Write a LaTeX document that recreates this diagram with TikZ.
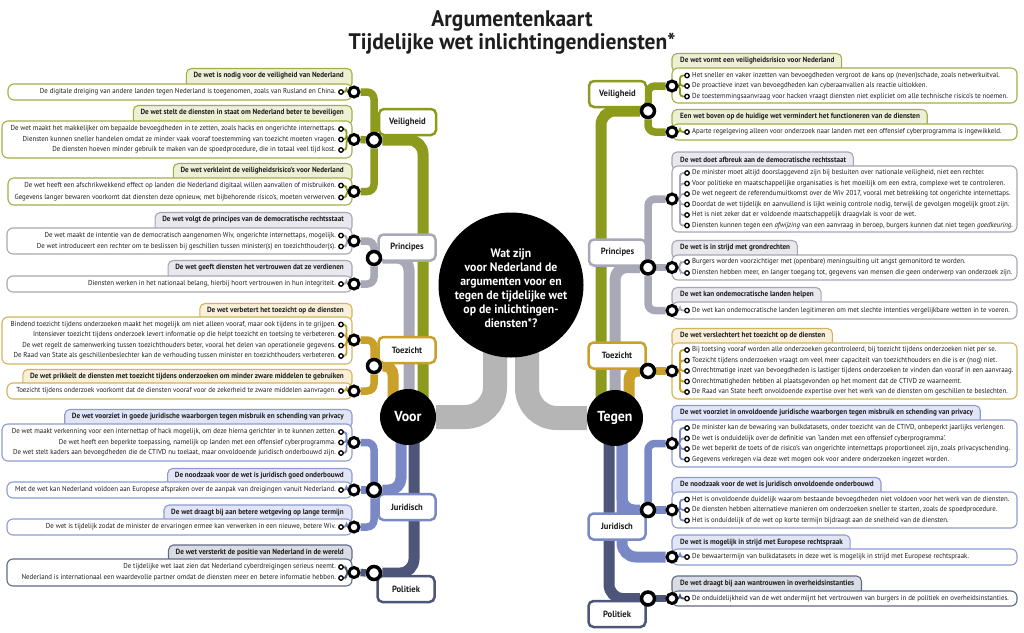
\documentclass[tikz,border=0pt]{standalone}
\usepackage{fontspec}
\setmainfont{PT Sans}[FakeStretch=0.955]

\definecolor{ctext}{HTML}{1E1E1E}
\definecolor{cgreen}{HTML}{8C9B1E}
\definecolor{cgreenE}{HTML}{A3AE45}
\definecolor{cgreenT}{HTML}{EEF0D6}
\definecolor{cgray}{HTML}{A8A8B6}
\definecolor{cgrayE}{HTML}{A6A6B4}
\definecolor{cgrayT}{HTML}{E8E8EE}
\definecolor{cgold}{HTML}{C9A12A}
\definecolor{cgoldE}{HTML}{D3B45C}
\definecolor{cgoldT}{HTML}{F8F0D9}
\definecolor{cblue}{HTML}{7A89C6}
\definecolor{cblueE}{HTML}{8E9BD0}
\definecolor{cblueT}{HTML}{E1E5F5}
\definecolor{cslate}{HTML}{4D5678}
\definecolor{cslateE}{HTML}{626A88}
\definecolor{cslateT}{HTML}{DADCE3}
\definecolor{chub}{HTML}{B5B5B5}

\pgfdeclarelayer{bg}
\pgfdeclarelayer{lines}
\pgfsetlayers{bg,lines,main}

\tikzset{
  txt/.style={font=\fontsize{7.2}{8}\selectfont, text=ctext, inner sep=0pt},
  head/.style={font=\bfseries\fontsize{7.5}{8}\selectfont, text=ctext, inner sep=0pt},
  tab/.style={draw=#1E, fill=#1T, line width=1.1pt, rounded corners=5pt},
  card/.style={draw=#1E, fill=white, line width=1.1pt, rounded corners=6pt},
  tie/.style={draw=#1, line width=1.8pt, rounded corners=3pt},
  branch/.style={draw=#1, line width=7.5pt, rounded corners=7pt},
  trunk/.style 2 args={draw=#1, line width=11pt, rounded corners=#2},
  hub/.style={draw=chub, line width=24pt, rounded corners=30pt},
  ring/.style={circle, draw=black, fill=white, line width=3pt, minimum size=10pt, inner sep=0pt},
  junction/.style={ring, line width=3.5pt, minimum size=13pt},
  tinyring/.style={circle, draw=black, fill=white, line width=1.3pt, minimum size=4.5pt, inner sep=0pt},
  cat/.style={draw=#1, line width=2.5pt, fill=white, rounded corners=5pt, minimum width=57pt,
    minimum height=26pt, inner sep=0pt, font=\bfseries\fontsize{9}{10}\selectfont, text=ctext},
  pole/.style={circle, fill=black, minimum size=56pt, inner sep=0pt, text=white,
    font=\bfseries\fontsize{14.5}{16}\selectfont},
  hubdot/.style={circle, fill=black, minimum size=145pt, inner sep=0pt},
  hubtext/.style={align=center, text=white, inner sep=0pt, font=\bfseries\fontsize{12.3}{14}\selectfont},
  title/.style={align=center, text=ctext, inner sep=0pt, font=\bfseries\fontsize{22.5}{23}\selectfont}
}

% card with tab: group, colour, left x, top, bottom
\newcommand{\cardL}[5]{%
  \begin{pgfonlayer}{bg}
    \filldraw[tab=#2] ([xshift=-7pt,yshift=7.5pt]#1h.west) rectangle (352,#4+4);
    \filldraw[card=#2] (#3,#4) rectangle (352,#5);
  \end{pgfonlayer}}
\newcommand{\cardR}[4]{%
  \begin{pgfonlayer}{bg}
    \filldraw[tab=#2] (672,#3+4) rectangle ([xshift=7pt,yshift=7.5pt]#1h.east);
    \filldraw[card=#2] (672,#3) rectangle (1017,#4);
  \end{pgfonlayer}}
% argument line: group, index, y, colour, text
\newcommand{\argL}[5]{%
  \node[txt, anchor=east] (#1-#2) at (336,#3) {#5};
  \node[tinyring] (#1-#2o) at (341,#3) {};
  \begin{pgfonlayer}{lines}
    \draw[tie=#4] (#1-#2o) -| ([xshift=-7.5pt]#1r.center) -- (#1r);
  \end{pgfonlayer}}
\newcommand{\argR}[5]{%
  \node[txt, anchor=west] (#1-#2) at (692,#3) {#5};
  \node[tinyring] (#1-#2o) at (687,#3) {};
  \begin{pgfonlayer}{lines}
    \draw[tie=#4] (#1-#2o) -| ([xshift=8pt]#1r.center) -- (#1r);
  \end{pgfonlayer}}

\begin{document}
\begin{tikzpicture}[x=1pt,y=-1pt]
\begin{pgfonlayer}{bg}
\fill[white] (0,0) rectangle (1024,632);
\end{pgfonlayer}
\useasboundingbox (0,0) rectangle (1024,632);

% ── TITLE ──
\node[title] (title) at (512,32.5) {Argumentenkaart\\Tijdelijke wet inlichtingendiensten*};

% ── CENTRE: question and the two poles ──
\node[hubdot] (Q) at (511,285) {};
\node[hubtext] (Qt) at (511,288) {Wat zijn\\voor Nederland de\\argumenten voor en\\tegen de tijdelijke wet\\op de inlichtingen-\\diensten*?};
\node[pole] (Voor) at (408,417) {Voor};
\node[pole] (Tegen) at (615,418) {Tegen};
\begin{pgfonlayer}{lines}
\draw[hub] (Voor) -| ([xshift=-16pt]Q.center);
\draw[hub] (Tegen) -| ([xshift=16pt]Q.center);
\end{pgfonlayer}

% ── VOOR: categories and junctions ──
\node[cat=cgreen] (lVeil) at (407.5,122) {Veiligheid};
\node[cat=cgray] (lPrin) at (407,247.5) {Principes};
\node[cat=cgold] (lToez) at (407,350) {Toezicht};
\node[cat=cblue] (lJuri) at (407,507) {Juridisch};
\node[cat=cslate] (lPoli) at (406,589) {Politiek};

\node[junction] (lvJ) at (374,140) {};
\node[junction] (lpJ) at (374,258) {};
\node[junction] (ltJ) at (374,366) {};
\node[junction] (ljJ) at (374,490) {};
\node[junction] (loJ) at (374,573) {};

% Veiligheid
\node[ring] (L1r) at (354,92) {};
\node[head, anchor=east] (L1h) at (344,76) {De wet is nodig voor de veiligheid van Nederland};
\cardL{L1}{cgreen}{8}{84}{100}
\argL{L1}{1}{92}{cgreen}{De digitale dreiging van andere landen tegen Nederland is toegenomen, zoals van Rusland en China.}

\node[ring] (L2r) at (354,139.5) {};
\node[head, anchor=east] (L2h) at (344,113) {De wet stelt de diensten in staat om Nederland beter te beveiligen};
\cardL{L2}{cgreen}{2}{121}{158}
\argL{L2}{1}{129}{cgreen}{De wet maakt het makkelijker om bepaalde bevoegdheden in te zetten, zoals hacks en ongerichte internettaps.}
\argL{L2}{2}{139.5}{cgreen}{Diensten kunnen sneller handelen omdat ze minder vaak vooraf toestemming van toezicht moeten vragen.}
\argL{L2}{3}{150}{cgreen}{De diensten hoeven minder gebruik te maken van de spoedprocedure, die in totaal veel tijd kost.}

\node[ring] (L3r) at (354,191.5) {};
\node[head, anchor=east] (L3h) at (344,171) {De wet verkleint de veiligheidsrisico's voor Nederland};
\cardL{L3}{cgreen}{8}{178}{205}
\argL{L3}{1}{185.5}{cgreen}{De wet heeft een afschrikwekkend effect op landen die Nederland digitaal willen aanvallen of misbruiken.}
\argL{L3}{2}{197.5}{cgreen}{Gegevens langer bewaren voorkomt dat diensten deze opnieuw, met bijbehorende risico's, moeten verwerven.}

% Principes
\node[ring] (L4r) at (354,241) {};
\node[head, anchor=east] (L4h) at (344,220) {De wet volgt de principes van de democratische rechtsstaat};
\cardL{L4}{cgray}{7}{228}{254}
\argL{L4}{1}{235.5}{cgray}{De wet maakt de intentie van de democratisch aangenomen Wiv, ongerichte internettaps, mogelijk.}
\argL{L4}{2}{246.5}{cgray}{De wet introduceert een rechter om te beslissen bij geschillen tussen minister(s) en toezichthouder(s).}

\node[ring] (L5r) at (354,284) {};
\node[head, anchor=east] (L5h) at (344,268) {De wet geeft diensten het vertrouwen dat ze verdienen};
\cardL{L5}{cgray}{7}{276}{292}
\argL{L5}{1}{284}{cgray}{Diensten werken in het nationaal belang, hierbij hoort vertrouwen in hun integriteit.}

% Toezicht
\node[ring] (L6r) at (354,340) {};
\node[head, anchor=east] (L6h) at (344,311) {De wet verbetert het toezicht op de diensten};
\cardL{L6}{cgold}{2}{317}{364}
\argL{L6}{1}{324.5}{cgold}{Bindend toezicht tijdens onderzoeken maakt het mogelijk om niet alleen vooraf, maar ook tijdens in te grijpen.}
\argL{L6}{2}{335}{cgold}{Intensiever toezicht tijdens onderzoek levert informatie op die helpt toezicht en toetsing te verbeteren.}
\argL{L6}{3}{345.5}{cgold}{De wet regelt de samenwerking tussen toezichthouders beter, vooral het delen van operationele gegevens.}
\argL{L6}{4}{356}{cgold}{De Raad van State als geschillenbeslechter kan de verhouding tussen minister en toezichthouders verbeteren.}

\node[ring] (L7r) at (354,391) {};
\node[head, anchor=east] (L7h) at (344,377) {De wet prikkelt de diensten met toezicht tijdens onderzoeken om minder zware middelen te gebruiken};
\cardL{L7}{cgold}{7}{383}{399}
\argL{L7}{1}{391}{cgold}{Toezicht tijdens onderzoek voorkomt dat de diensten vooraf voor de zekerheid te zware middelen aanvragen.}

% Juridisch
\node[ring] (L8r) at (354,442.5) {};
\node[head, anchor=east] (L8h) at (344,417) {De wet voorziet in goede juridische waarborgen tegen misbruik en schending van privacy};
\cardL{L8}{cblue}{2}{424}{461}
\argL{L8}{1}{432}{cblue}{De wet maakt verkenning voor een internettap of hack mogelijk, om deze hierna gerichter in te kunnen zetten.}
\argL{L8}{2}{442.5}{cblue}{De wet heeft een beperkte toepassing, namelijk op landen met een offensief cyberprogramma.}
\argL{L8}{3}{453}{cblue}{De wet stelt kaders aan bevoegdheden die de CTIVD nu toelaat, maar onvoldoende juridisch onderbouwd zijn.}

\node[ring] (L9r) at (354,490) {};
\node[head, anchor=east] (L9h) at (344,476) {De noodzaak voor de wet is juridisch goed onderbouwd};
\cardL{L9}{cblue}{7}{482}{498}
\argL{L9}{1}{490}{cblue}{Met de wet kan Nederland voldoen aan Europese afspraken over de aanpak van dreigingen vanuit Nederland.}

\node[ring] (L10r) at (354,527) {};
\node[head, anchor=east] (L10h) at (344,512.5) {De wet draagt bij aan betere wetgeving op lange termijn};
\cardL{L10}{cblue}{7}{519}{535}
\argL{L10}{1}{527}{cblue}{De wet is tijdelijk zodat de minister de ervaringen ermee kan verwerken in een nieuwe, betere Wiv.}

% Politiek
\node[ring] (L11r) at (354,572.5) {};
\node[head, anchor=east] (L11h) at (344,552.5) {De wet versterkt de positie van Nederland in de wereld};
\cardL{L11}{cslate}{7}{559}{586}
\argL{L11}{1}{567}{cslate}{De tijdelijke wet laat zien dat Nederland cyberdreigingen serieus neemt.}
\argL{L11}{2}{578}{cslate}{Nederland is internationaal een waardevolle partner omdat de diensten meer en betere informatie hebben.}

\begin{pgfonlayer}{lines}
\draw[branch=cgreen] (L1r) -| (lvJ) |- (L3r);
\draw[branch=cgreen] (L2r) -- (lvJ);
\draw[trunk={cgreen}{14pt}] (lvJ) -| ([xshift=15pt]Voor.center);
\draw[branch=cgray] (L4r) -| (lpJ) |- (L5r);
\draw[trunk={cgray}{12pt}] (lpJ) -| ([xshift=1pt]Voor.center);
\draw[branch=cgold] (L6r) -| (ltJ) |- (L7r);
\draw[trunk={cgold}{9pt}] (ltJ) -| ([xshift=-15pt]Voor.center);
\draw[branch=cblue] (L8r) -| (ljJ) |- (L10r);
\draw[branch=cblue] (L9r) -- (ljJ);
\draw[trunk={cblue}{12pt}] (ljJ) -| ([xshift=-7pt]Voor.center);
\draw[branch=cslate] (L11r) -- (loJ);
\draw[trunk={cslate}{14pt}] (loJ) -| ([xshift=6pt]Voor.center);
\end{pgfonlayer}

% ── TEGEN: categories and junctions ──
\node[cat=cgreen] (rVeil) at (617.5,94) {Veiligheid};
\node[cat=cgray] (rPrin) at (617.5,252.5) {Principes};
\node[cat=cgold] (rToez) at (617,355.5) {Toezicht};
\node[cat=cblue] (rJuri) at (617,526.5) {Juridisch};
\node[cat=cslate] (rPoli) at (617,614) {Politiek};

\node[junction] (rvJ) at (648,111) {};
\node[junction] (rpJ) at (648,267.5) {};
\node[junction] (rtJ) at (648,371) {};
\node[junction] (rjJ) at (648,510) {};
\node[junction] (roJ) at (648,598.5) {};

% Veiligheid
\node[ring] (R1r) at (672,86) {};
\node[head, anchor=west] (R1h) at (680,61) {De wet vormt een veiligheidsrisico voor Nederland};
\cardR{R1}{cgreen}{68}{103}
\argR{R1}{1}{75.5}{cgreen}{Het sneller en vaker inzetten van bevoegdheden vergroot de kans op (neven)schade, zoals netwerkuitval.}
\argR{R1}{2}{86}{cgreen}{De proactieve inzet van bevoegdheden kan cyberaanvallen als reactie uitlokken.}
\argR{R1}{3}{96.5}{cgreen}{De toestemmingsaanvraag voor hacken vraagt diensten niet expliciet om alle technische risico's te noemen.}

\node[ring] (R2r) at (672,132) {};
\node[head, anchor=west] (R2h) at (680,117) {Een wet boven op de huidige wet vermindert het functioneren van de diensten};
\cardR{R2}{cgreen}{124}{140}
\argR{R2}{1}{132}{cgreen}{Aparte regelgeving alleen voor onderzoek naar landen met een offensief cyberprogramma is ingewikkeld.}

% Principes
\node[ring] (R3r) at (672,199) {};
\node[head, anchor=west] (R3h) at (680,159.5) {De wet doet afbreuk aan de democratische rechtsstaat};
\cardR{R3}{cgray}{166}{232}
\argR{R3}{1}{173}{cgray}{De minister moet altijd doorslaggevend zijn bij besluiten over nationale veiligheid, niet een rechter.}
\argR{R3}{2}{183.5}{cgray}{Voor politieke en maatschappelijke organisaties is het moeilijk om een extra, complexe wet te controleren.}
\argR{R3}{3}{194}{cgray}{De wet negeert de referendumuitkomst over de Wiv 2017, vooral met betrekking tot ongerichte internettaps.}
\argR{R3}{4}{204.5}{cgray}{Doordat de wet tijdelijk en aanvullend is lijkt weinig controle nodig, terwijl de gevolgen mogelijk groot zijn.}
\argR{R3}{5}{215}{cgray}{Het is niet zeker dat er voldoende maatschappelijk draagvlak is voor de wet.}
\argR{R3}{6}{225.5}{cgray}{Diensten kunnen tegen een \emph{afwijzing} van een aanvraag in beroep, burgers kunnen dat niet tegen \emph{goedkeuring}.}

\node[ring] (R4r) at (672,267.5) {};
\node[head, anchor=west] (R4h) at (680,248) {De wet is in strijd met grondrechten};
\cardR{R4}{cgray}{255}{280}
\argR{R4}{1}{262}{cgray}{Burgers worden voorzichtiger met (openbare) meningsuiting uit angst gemonitord te worden.}
\argR{R4}{2}{273}{cgray}{Diensten hebben meer, en langer toegang tot, gegevens van mensen die geen onderwerp van onderzoek zijn.}

\node[ring] (R5r) at (672,310.5) {};
\node[head, anchor=west] (R5h) at (680,295) {De wet kan ondemocratische landen helpen};
\cardR{R5}{cgray}{302}{319}
\argR{R5}{1}{310.5}{cgray}{De wet kan ondemocratische landen legitimeren om met slechte intenties vergelijkbare wetten in te voeren.}

% Toezicht
\node[ring] (R6r) at (672,371) {};
\node[head, anchor=west] (R6h) at (680,336) {De wet verslechtert het toezicht op de diensten};
\cardR{R6}{cgold}{343}{399}
\argR{R6}{1}{350}{cgold}{Bij toetsing vooraf worden alle onderzoeken gecontroleerd, bij toezicht tijdens onderzoeken niet per se.}
\argR{R6}{2}{360.5}{cgold}{Toezicht tijdens onderzoeken vraagt om veel meer capaciteit van toezichthouders en die is er (nog) niet.}
\argR{R6}{3}{371}{cgold}{Onrechtmatige inzet van bevoegdheden is lastiger tijdens onderzoeken te vinden dan vooraf in een aanvraag.}
\argR{R6}{4}{381.5}{cgold}{Onrechtmatigheden hebben al plaatsgevonden op het moment dat de CTIVD ze waarneemt.}
\argR{R6}{5}{392}{cgold}{De Raad van State heeft onvoldoende expertise over het werk van de diensten om geschillen te beslechten.}

% Juridisch
\node[ring] (R7r) at (672,443.5) {};
\node[head, anchor=west] (R7h) at (680,413) {De wet voorziet in onvoldoende juridische waarborgen tegen misbruik en schending van privacy};
\cardR{R7}{cblue}{420}{467}
\argR{R7}{1}{428}{cblue}{De minister kan de bewaring van bulkdatasets, onder toezicht van de CTIVD, onbeperkt jaarlijks verlengen.}
\argR{R7}{2}{438.5}{cblue}{De wet is onduidelijk over de definitie van `landen met een offensief cyberprogramma'.}
\argR{R7}{3}{449}{cblue}{De wet beperkt de toets of de risico's van ongerichte internettaps proportioneel zijn, zoals privacyschending.}
\argR{R7}{4}{459.5}{cblue}{Gegevens verkregen via deze wet mogen ook voor andere onderzoeken ingezet worden.}

\node[ring] (R8r) at (672,510) {};
\node[head, anchor=west] (R8h) at (680,485) {De noodzaak voor de wet is juridisch onvoldoende onderbouwd};
\cardR{R8}{cblue}{492}{528}
\argR{R8}{1}{499.5}{cblue}{Het is onvoldoende duidelijk waarom bestaande bevoegdheden niet voldoen voor het werk van de diensten.}
\argR{R8}{2}{510}{cblue}{De diensten hebben alternatieve manieren om onderzoeken sneller te starten, zoals de spoedprocedure.}
\argR{R8}{3}{520.5}{cblue}{Het is onduidelijk of de wet op korte termijn bijdraagt aan de snelheid van de diensten.}

\node[ring] (R9r) at (672,557) {};
\node[head, anchor=west] (R9h) at (680,542.5) {De wet is mogelijk in strijd met Europese rechtspraak};
\cardR{R9}{cblue}{549}{565}
\argR{R9}{1}{557}{cblue}{De bewaartermijn van bulkdatasets in deze wet is mogelijk in strijd met Europese rechtspraak.}

% Politiek
\node[ring] (R10r) at (672,598.5) {};
\node[head, anchor=west] (R10h) at (680,583.5) {De wet draagt bij aan wantrouwen in overheidsinstanties};
\cardR{R10}{cslate}{591}{606}
\argR{R10}{1}{598.5}{cslate}{De onduidelijkheid van de wet ondermijnt het vertrouwen van burgers in de politiek en overheidsinstanties.}

\begin{pgfonlayer}{lines}
\draw[branch=cgreen] (R1r) -| (rvJ) |- (R2r);
\draw[trunk={cgreen}{14pt}] (rvJ) -| ([xshift=-14pt]Tegen.center);
\draw[branch=cgray] (R3r) -| (rpJ) |- (R5r);
\draw[branch=cgray] (R4r) -- (rpJ);
\draw[trunk={cgray}{12pt}] (rpJ) -| (Tegen.center);
\draw[branch=cgold] (R6r) -- (rtJ);
\draw[trunk={cgold}{9pt}] (rtJ) -| ([xshift=14pt]Tegen.center);
\draw[branch=cblue] (R7r) -| (rjJ);
\draw[branch=cblue] (R8r) -- (rjJ);
\draw[trunk={cblue}{12pt}] (rjJ) -| ([xshift=7pt]Tegen.center);
\draw[trunk={cblue}{14pt}] (R9r) -| ([xshift=7pt]Tegen.center);
\draw[branch=cslate] (R10r) -- (roJ);
\draw[trunk={cslate}{14pt}] (roJ) -| ([xshift=-6pt]Tegen.center);
\end{pgfonlayer}

\end{tikzpicture}
\end{document}
